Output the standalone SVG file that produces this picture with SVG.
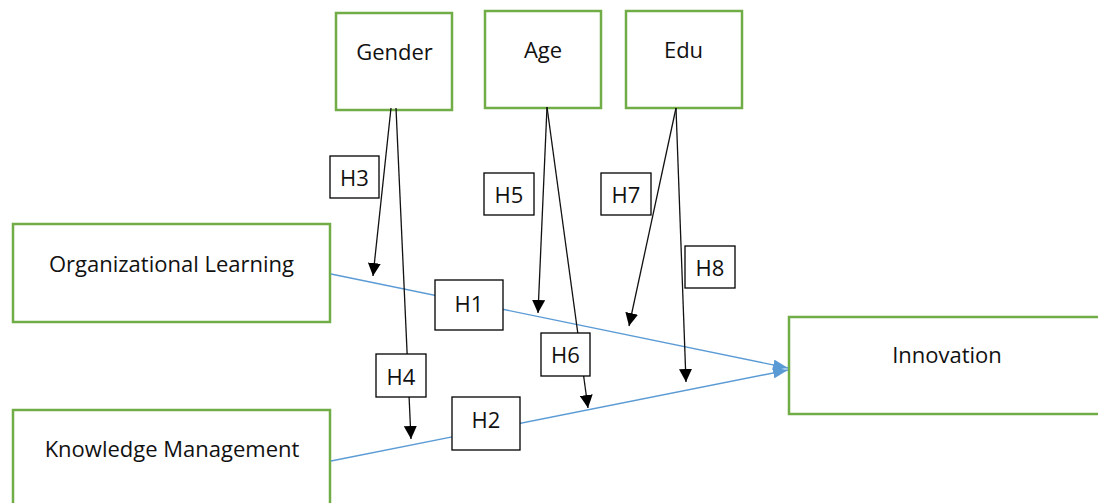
<svg xmlns="http://www.w3.org/2000/svg" width="1098" height="503" viewBox="0 0 1098 503">
  <defs>
    <marker id="arrowBlack" markerUnits="userSpaceOnUse" markerWidth="14" markerHeight="13" refX="13" refY="6.5" orient="auto">
      <path d="M0,0 L13,6.5 L0,13 z" fill="#000"/>
    </marker>
    <marker id="arrowBlue" markerUnits="userSpaceOnUse" markerWidth="16" markerHeight="11" refX="15" refY="5.5" orient="auto">
      <path d="M0,0 L15,5.5 L0,11 z" fill="#5B9BD5"/>
    </marker>
    <style>
      .node { fill: #fff; stroke: #70AD47; stroke-width: 2.5; }
      .label { fill: #fff; stroke: #000; stroke-width: 1.3; }
      .txt { font-family: "Open Sans", "Liberation Sans", sans-serif; font-size: 22px; fill: #111; text-anchor: middle; }
      .mod { stroke: #111; stroke-width: 1.3; fill: none; marker-end: url(#arrowBlack); }
      .main { stroke: #5B9BD5; stroke-width: 1.4; fill: none; marker-end: url(#arrowBlue); }
    </style>
  </defs>
  <rect width="1098" height="503" fill="#fff"/>

  <!-- variable boxes -->
  <g id="gender">
    <rect class="node" x="336" y="13" width="116" height="97"/>
    <text class="txt" x="394.5" y="60">Gender</text>
  </g>
  <g id="age">
    <rect class="node" x="485" y="11" width="116" height="97"/>
    <text class="txt" x="543" y="58">Age</text>
  </g>
  <g id="edu">
    <rect class="node" x="626" y="11" width="116" height="97"/>
    <text class="txt" x="683.5" y="58">Edu</text>
  </g>
  <g id="organizational-learning">
    <rect class="node" x="13" y="224" width="317" height="98"/>
    <text class="txt" x="171.5" y="272">Organizational Learning</text>
  </g>
  <g id="knowledge-management">
    <rect class="node" x="13" y="410" width="317" height="100"/>
    <text class="txt" x="172" y="457">Knowledge Management</text>
  </g>
  <g id="innovation">
    <rect class="node" x="789" y="317" width="315" height="97"/>
    <text class="txt" x="947" y="363">Innovation</text>
  </g>

  <!-- connectors -->
  <g id="connectors">
    <line class="main" x1="331" y1="274" x2="788" y2="368"/>
    <line class="main" x1="331" y1="461" x2="788" y2="370"/>
    <line class="mod" x1="391" y1="108" x2="373" y2="276"/>
    <line class="mod" x1="396" y1="108" x2="411" y2="439"/>
    <line class="mod" x1="547" y1="107" x2="538" y2="313"/>
    <line class="mod" x1="547" y1="107" x2="588" y2="408"/>
    <line class="mod" x1="676" y1="108" x2="629" y2="326"/>
    <line class="mod" x1="676" y1="108" x2="686" y2="382"/>
  </g>

  <!-- hypothesis labels -->
  <g id="h1">
    <rect class="label" x="435" y="280" width="68" height="50"/>
    <text class="txt" x="469" y="312">H1</text>
  </g>
  <g id="h2">
    <rect class="label" x="452" y="397" width="68" height="53"/>
    <text class="txt" x="486" y="428">H2</text>
  </g>
  <g id="h3">
    <rect class="label" x="330" y="156" width="49" height="42"/>
    <text class="txt" x="354.5" y="186">H3</text>
  </g>
  <g id="h4">
    <rect class="label" x="376" y="354" width="50" height="43"/>
    <text class="txt" x="401" y="385">H4</text>
  </g>
  <g id="h5">
    <rect class="label" x="484" y="173" width="50" height="42"/>
    <text class="txt" x="509" y="203">H5</text>
  </g>
  <g id="h6">
    <rect class="label" x="541" y="333" width="49" height="43"/>
    <text class="txt" x="565.5" y="363">H6</text>
  </g>
  <g id="h7">
    <rect class="label" x="601" y="173" width="50" height="42"/>
    <text class="txt" x="626" y="203">H7</text>
  </g>
  <g id="h8">
    <rect class="label" x="685" y="246" width="50" height="42"/>
    <text class="txt" x="710" y="276">H8</text>
  </g>
</svg>
